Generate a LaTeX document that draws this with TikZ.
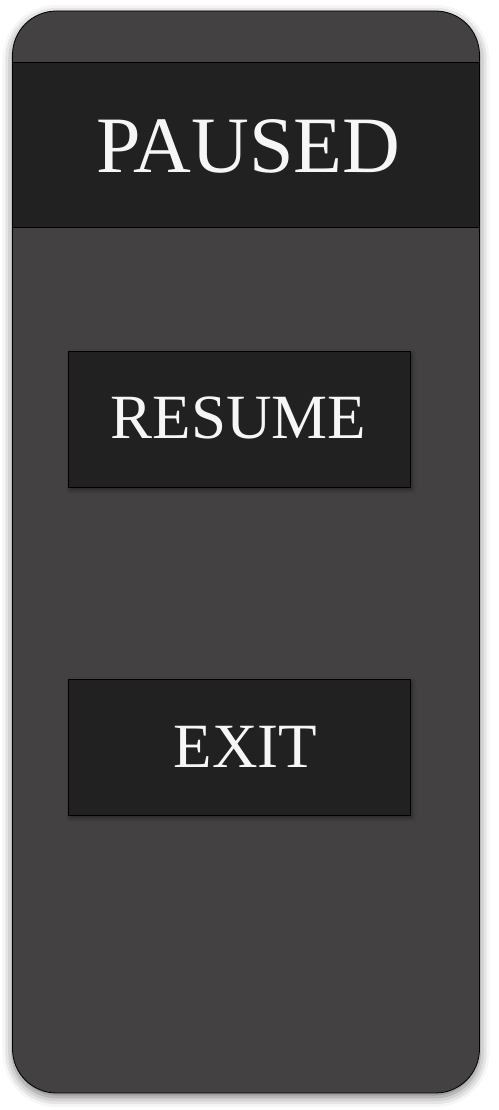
\documentclass[tikz,border=0pt]{standalone}
\usepackage{fontspec}
\setmainfont{Liberation Serif}
\usetikzlibrary{shadows.blur}

\definecolor{panelgray}{HTML}{434142}
\definecolor{bardark}{HTML}{212121}

\begin{document}
\begin{tikzpicture}[x=1pt,y=1pt,
    panel/.style={draw=black,line width=0.8pt,fill=panelgray,rounded corners=44pt,
      minimum width=467pt,minimum height=1082pt,inner sep=0pt,
      blur shadow={shadow xshift=0pt,shadow yshift=-4pt,shadow blur radius=10pt,shadow opacity=55}},
    bar/.style={draw=black,line width=0.8pt,fill=bardark,minimum width=467pt,minimum height=165pt,inner sep=0pt},
    button/.style={draw=black,line width=0.8pt,fill=bardark,minimum width=342pt,minimum height=136pt,inner sep=0pt,
      blur shadow={shadow xshift=2pt,shadow yshift=-3pt,shadow blur radius=4pt,shadow opacity=40}},
    label/.style={anchor=base,inner sep=0pt,text=white!93!gray}]
    \useasboundingbox (0,0) rectangle (498,1110);
    \node[panel] (panel) at (246,558) {};
    \node[bar] (titlebar) at (246,965.5) {};
    \node[button] (resume) at (239,691) {};
    \node[button] (exit) at (239,363) {};
    \node[label] (paused) at (248.5,937) {\fontsize{80}{80}\selectfont PAUSED};
    \node[label] (resumetext) at (238.5,671) {\fontsize{63}{63}\selectfont RESUME};
    \node[label] (exittext) at (245.5,342) {\fontsize{63}{63}\selectfont EXIT};
  \end{tikzpicture}
\end{document}
